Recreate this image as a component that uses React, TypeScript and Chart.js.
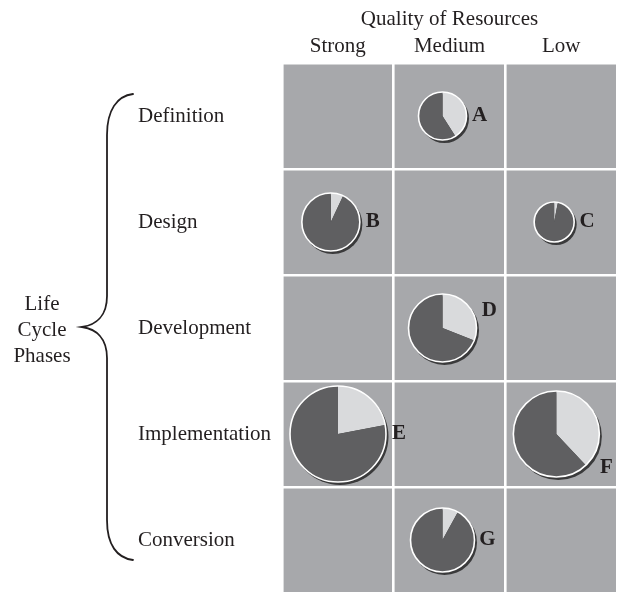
import React, { useEffect, useRef } from "react";
import { Chart, registerables, ArcElement } from "chart.js";

Chart.register(...registerables);

// ---------- data ----------
const qualityLevels = ["Strong", "Medium", "Low"];
const lifeCyclePhases = ["Definition", "Design", "Development", "Implementation", "Conversion"];
const axisTitle = "Quality of Resources";
const sideTitle = ["Life", "Cycle", "Phases"];

const projectNames = ["A", "B", "C", "D", "E", "F", "G"];
const projectQuality = ["Medium", "Strong", "Low", "Medium", "Strong", "Low", "Medium"];
const projectPhase = ["Definition", "Design", "Design", "Development", "Implementation", "Implementation", "Conversion"];
const projectSize = [24, 29, 20, 34, 48, 43, 32];
const lightShare = [41, 7, 3, 31, 22, 38, 8];
const darkShare = [59, 93, 97, 69, 78, 62, 92];

// ---------- style ----------
const FONT = "'Liberation Serif', 'Times New Roman', Times, serif";
const TEXT = "#231f20";
const CELL = "#a7a8ab";
const DARK = "#5f5f61";
const LIGHT = "#d9dadc";
const SHADOW = "#3a3a3b";
const labelAngleDeg = [0, 0, 0, -20, 0, 34, 0];

const cellBackground = {
  id: "cellBackground",
  beforeDraw(chart: any) {
    const { ctx, chartArea: a } = chart;
    ctx.save();
    ctx.fillStyle = CELL;
    ctx.fillRect(a.left, a.top, a.right - a.left, a.bottom - a.top);
    ctx.restore();
  },
};

const piePlugin = {
  id: "pies",
  afterDatasetsDraw(chart: any) {
    const ctx = chart.ctx;
    const meta = chart.getDatasetMeta(0);
    const xs = chart.scales.x;
    const catW = xs.width / qualityLevels.length;
    meta.data.forEach((el: any, i: number) => {
      const r = el.options.radius;
      const cellLeft = el.x - catW / 2;
      const cx = Math.max(el.x - 7, cellLeft + r + 8);
      const cy = el.y;

      ctx.save();
      ctx.fillStyle = SHADOW;
      ctx.beginPath();
      ctx.arc(cx + 2, cy + 2.5, r + 0.5, 0, Math.PI * 2);
      ctx.fill();
      ctx.restore();

      const total = lightShare[i] + darkShare[i];
      let start = -Math.PI / 2;
      const parts: [number, string][] = [
        [lightShare[i], LIGHT],
        [darkShare[i], DARK],
      ];
      parts.forEach(([v, c]) => {
        const circ = (v / total) * Math.PI * 2;
        const arc = new (ArcElement as any)({
          x: cx,
          y: cy,
          startAngle: start,
          endAngle: start + circ,
          circumference: circ,
          innerRadius: 0,
          outerRadius: r,
          options: {
            backgroundColor: c,
            borderColor: c,
            borderWidth: 0,
            borderAlign: "center",
            borderRadius: 0,
            borderJoinStyle: "round",
            borderDash: [],
            borderDashOffset: 0,
            offset: 0,
            spacing: 0,
            circular: true,
          },
        });
        arc.draw(ctx);
        start += circ;
      });

      ctx.save();
      ctx.strokeStyle = "#ffffff";
      ctx.lineWidth = 1.6;
      ctx.beginPath();
      ctx.arc(cx, cy, r, 0, Math.PI * 2);
      ctx.stroke();
      ctx.restore();

      const th = (labelAngleDeg[i] * Math.PI) / 180;
      const d = r + 13 + 8 * Math.abs(Math.sin(th));
      ctx.save();
      ctx.fillStyle = TEXT;
      ctx.font = `bold 21px ${FONT}`;
      ctx.textAlign = "center";
      ctx.textBaseline = "middle";
      ctx.fillText(projectNames[i], cx + d * Math.cos(th), cy + d * Math.sin(th));
      ctx.restore();
    });
  },
};

const sidePlugin = {
  id: "side",
  afterDraw(chart: any) {
    const ctx = chart.ctx;
    ctx.save();
    ctx.strokeStyle = TEXT;
    ctx.lineWidth = 1.8;
    ctx.lineCap = "round";
    ctx.beginPath();
    ctx.moveTo(133, 94);
    ctx.bezierCurveTo(117, 96, 107, 110, 107, 135);
    ctx.lineTo(107, 296);
    ctx.bezierCurveTo(107, 316, 96, 325, 82, 327);
    ctx.bezierCurveTo(96, 329, 107, 338, 107, 358);
    ctx.lineTo(107, 520);
    ctx.bezierCurveTo(107, 545, 117, 558, 133, 560);
    ctx.stroke();

    ctx.fillStyle = TEXT;
    ctx.font = `21px ${FONT}`;
    ctx.textAlign = "center";
    ctx.textBaseline = "alphabetic";
    sideTitle.forEach((t, k) => {
      ctx.fillText(t, 42, 310 + k * 26);
    });
    ctx.restore();
  },
};

export default function App() {
  const canvasRef = useRef<HTMLCanvasElement | null>(null);

  useEffect(() => {
    const canvas = canvasRef.current;
    if (!canvas) return;
    const chart = new Chart(canvas, {
      type: "bubble",
      data: {
        datasets: [
          {
            label: "Projects",
            data: projectNames.map((_, i) => ({
              x: projectQuality[i],
              y: projectPhase[i],
              r: projectSize[i],
            })) as any,
            backgroundColor: "rgba(0,0,0,0)",
            borderColor: "rgba(0,0,0,0)",
            borderWidth: 0,
            hoverRadius: 0,
          },
        ],
      },
      options: {
        animation: false,
        responsive: false,
        events: [],
        layout: { autoPadding: false, padding: { left: 138, top: 0, right: 0, bottom: 3 } },
        plugins: {
          legend: { display: false },
          tooltip: { enabled: false },
        },
        scales: {
          x: {
            type: "category",
            labels: qualityLevels,
            position: "top",
            offset: true,
            afterFit: (s: any) => {
              s.height = 63;
            },
            grid: {
              offset: true,
              color: "#ffffff",
              lineWidth: 2.6,
              drawTicks: false,
            },
            border: { display: false },
            ticks: {
              color: TEXT,
              padding: 4,
              font: { family: FONT, size: 21 },
            },
            title: {
              display: true,
              text: axisTitle,
              color: TEXT,
              padding: { top: 7, bottom: 0 },
              font: { family: FONT, size: 21 },
            },
          },
          y: {
            type: "category",
            labels: lifeCyclePhases,
            position: "left",
            offset: true,
            afterFit: (s: any) => {
              s.width = 144;
              s.paddingTop = 0;
              s.paddingBottom = 0;
            },
            grid: {
              offset: true,
              color: "#ffffff",
              lineWidth: 2.6,
              drawTicks: false,
            },
            border: { display: false },
            ticks: {
              color: TEXT,
              padding: 0,
              crossAlign: "far",
              font: { family: FONT, size: 21 },
            },
          },
        },
      } as any,
      plugins: [cellBackground, piePlugin, sidePlugin],
    });
    return () => chart.destroy();
  }, []);

  return (
    <div style={{ position: "absolute", left: 0, top: 0, width: 617, height: 596, background: "#ffffff" }}>
      <canvas ref={canvasRef} width={617} height={596} style={{ display: "block", width: 617, height: 596 }} />
    </div>
  );
}
